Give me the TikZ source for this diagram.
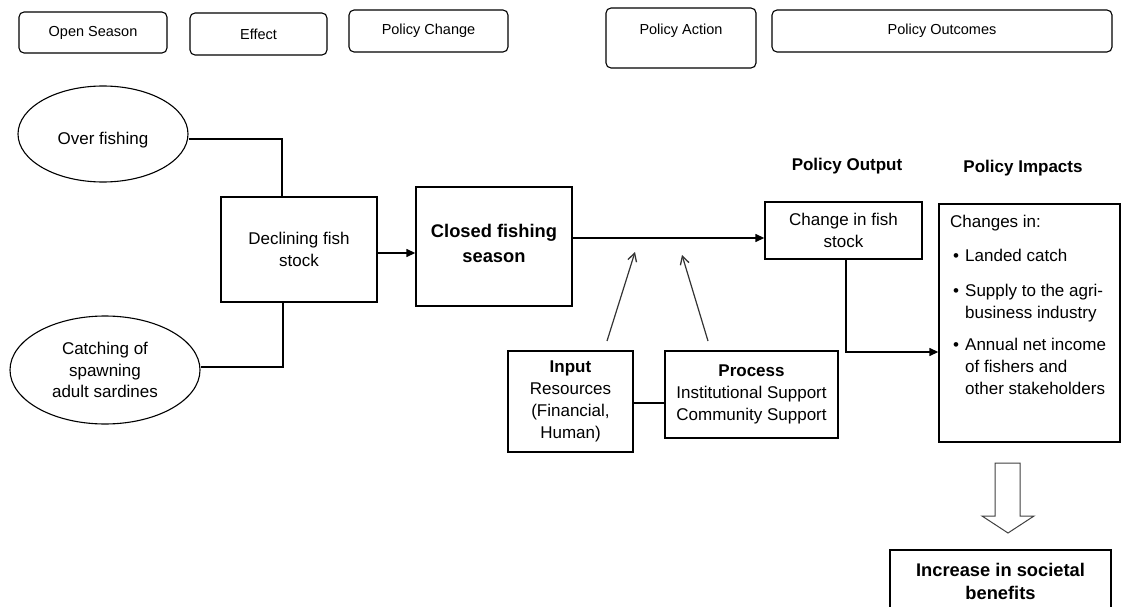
\documentclass[tikz,border=0pt]{standalone}
\usepackage{fontspec}
\setmainfont{Liberation Sans}
\usetikzlibrary{arrows.meta,shapes.geometric}
\begin{document}
\begin{tikzpicture}[x=1pt,y=-1pt,
  hdr/.style={draw, rounded corners=5pt, line width=1.1pt, inner sep=0pt, font=\fontsize{14.5}{17}\selectfont},
  box/.style={draw, line width=1.4pt, inner sep=0pt, align=center, font=\fontsize{17}{22}\selectfont},
  ell/.style={draw, ellipse, line width=1.1pt, inner sep=0pt, align=center, font=\fontsize{17}{21.5}\selectfont},
  txt/.style={inner sep=0pt, align=center, font=\fontsize{17}{22}\selectfont},
  bigtxt/.style={font=\fontsize{18.3}{25}\selectfont\bfseries},
  conn/.style={line width=1.4pt},
  arr/.style={conn, -{Triangle[length=9pt,width=8pt]}},
  thinarr/.style={line width=1.2pt, draw=black!80, -{Straight Barb[length=8pt,width=9pt,line width=1.3pt]}}
]
\useasboundingbox (0,0) rectangle (1135,607);

% header boxes
\node[hdr, minimum width=148, minimum height=41] (hopen) at (93,32.5) {Open Season};
\node[hdr, minimum width=137, minimum height=42] (heffect) at (258.5,34) {Effect};
\node[hdr, minimum width=159, minimum height=42] (hchange) at (428.5,31) {Policy Change};
\node[hdr, minimum width=150, minimum height=60] (haction) at (681,38) {};
\node[inner sep=0pt, font=\fontsize{14.5}{17}\selectfont] (hactiontxt) at (681,31) {Policy Action};
\node[hdr, minimum width=340, minimum height=42] (houtcomes) at (942,31) {Policy Outcomes};

% causes
\node[ell, minimum width=170, minimum height=96] (over) at (103,134) {};
\node[txt] (overtxt) at (103,140) {Over fishing};
\node[ell, minimum width=190, minimum height=108] (catch) at (105,370) {Catching of\\spawning\\adult sardines};
\node[box, minimum width=156, minimum height=105] (decl) at (299,249.5) {Declining fish\\stock};
\node[box, bigtxt, minimum width=156, minimum height=119] (closed) at (494,246.5) {};
\node[txt, bigtxt] (closedtxt) at (494,243) {Closed fishing\\season};

% output / impacts
\node[txt, font=\fontsize{17}{22}\selectfont\bfseries] (poutput) at (847,166) {Policy Output};
\node[txt, font=\fontsize{17}{22}\selectfont\bfseries] (pimpacts) at (1023,168) {Policy Impacts};
\node[box, minimum width=157, minimum height=57] (change) at (843.5,230.5) {Change in fish\\stock};
\node[box, minimum width=181, minimum height=238] (impacts) at (1029.5,323) {};
\node[txt, anchor=north west, align=left] (impactstxt) at (950,215)
  {Changes in:\\[12pt]
   \hspace*{3pt}\makebox[12pt][l]{\textbullet}Landed catch\\[13pt]
   \hspace*{3pt}\makebox[12pt][l]{\textbullet}Supply to the agri-\\
   \hspace*{15pt}business industry\\[10pt]
   \hspace*{3pt}\makebox[12pt][l]{\textbullet}Annual net income\\
   \hspace*{15pt}of fishers and\\
   \hspace*{15pt}other stakeholders};

% inputs / process
\node[box, minimum width=125, minimum height=101] (input) at (570.5,401.5) {\textbf{Input}\\Resources\\(Financial,\\Human)};
\node[box, minimum width=173, minimum height=87] (process) at (751.5,394.5) {\textbf{Process}\\Institutional Support\\Community Support};

% societal benefits
\node[box, minimum width=221, minimum height=63, font=\fontsize{18.3}{23}\selectfont\bfseries] (increase) at (1000.5,581.5) {Increase in societal\\benefits};

% connectors
\coordinate (j1) at (282,139);
\draw[conn] (over.east |- j1) -- (j1) -- (j1 |- decl.north);
\coordinate (j2) at (283,367);
\draw[conn] (j2 |- decl.south) -- (j2) -- (catch.east |- j2);
\coordinate (j4) at (377,253);
\draw[arr] (decl.east |- j4) -- (closed.west |- j4);
\coordinate (m) at (573,238);
\draw[arr] (closed.east |- m) -- (change.west |- m);
\coordinate (j3) at (846,352);
\draw[arr] (change.south -| j3) -- (j3) -- (impacts.west |- j3);
\draw[conn] (input.east |- 0,403) -- (process.west |- 0,403);

\coordinate (s1) at (607,341);
\coordinate (t1) at (635,252);
\coordinate (s2) at (708,341);
\coordinate (t2) at (682,255);
\draw[thinarr] (s1) -- (t1);
\draw[thinarr] (s2) -- (t2);

% hollow block arrow
\draw[line width=1pt, draw=black!75, fill=white] (995,463) -- (1020,463) -- (1020,516) -- (1034,516) -- (1008,533) -- (982,516) -- (995,516) -- cycle;
\end{tikzpicture}
\end{document}
